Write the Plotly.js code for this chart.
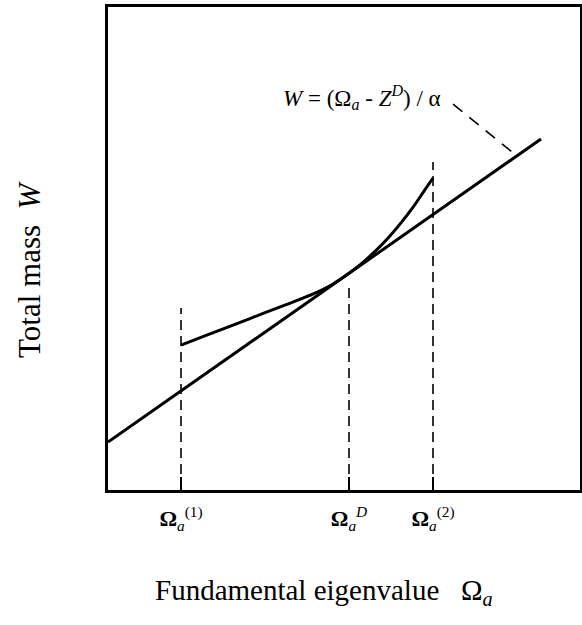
<!DOCTYPE html>
<html>
<head>
<meta charset="utf-8">
<script src="https://cdn.plot.ly/plotly-3.0.1.min.js"></script>
<style>
  html, body { margin: 0; padding: 0; background: #fff; }
  #chart { width: 582px; height: 625px; }
</style>
</head>
<body>
<div id="chart"></div>
<script>
// Eigenvalue positions on the horizontal axis
const eigenPositions = [15.47, 51.06, 68.86];
const eigenLabels = [
  '<b>Ω</b><sub><i>a</i></sub><sup>(1)</sup>',
  '<b>Ω</b><sub><i>a</i></sub><sup><i>D</i></sup>',
  '<b>Ω</b><sub><i>a</i></sub><sup>(2)</sup>'
];
// Heights reached by the dashed guide lines
const guideTops = [37.7, 42.4, 67.9];

// Total mass curve W(Ω_a)
const massX = [15.47, 20.5, 26.9, 33.0, 38.9, 43.5, 47.4, 51.06, 53.4, 56.9, 59.1, 61.9, 64.6, 66.7, 68.86];
const massY = [30.0, 31.9, 34.3, 36.6, 38.8, 40.6, 42.5, 44.9, 46.6, 49.7, 51.9, 55.1, 58.5, 61.5, 64.6];

// Straight line W = (Ω_a - Z^D) / α
const lineX = [0, 91.74];
const lineY = [9.94, 72.67];

// Leader from the formula to the straight line
const leaderX = [73.1, 86.65];
const leaderY = [79.9, 69.15];

const serif = 'Liberation Serif, Times New Roman, serif';

const traces = [];

eigenPositions.forEach((x, i) => {
  traces.push({
    x: [x, x], y: [0, guideTops[i]],
    mode: 'lines', hoverinfo: 'skip', showlegend: false,
    line: { color: '#000', width: 1.6, dash: '10px,6px' }
  });
});

traces.push({
  x: lineX, y: lineY, mode: 'lines', showlegend: false,
  line: { color: '#000', width: 3 }
});

traces.push({
  x: massX, y: massY, mode: 'lines', showlegend: false,
  line: { color: '#000', width: 3, shape: 'spline', smoothing: 0.6 }
});

traces.push({
  x: leaderX, y: leaderY, mode: 'lines', showlegend: false,
  line: { color: '#000', width: 1.6, dash: '12px,9px' }
});

const layout = {
  width: 582, height: 625,
  margin: { l: 108, r: 2, t: 7, b: 135 },
  paper_bgcolor: '#fff', plot_bgcolor: '#fff',
  showlegend: false,
  font: { family: serif, color: '#000' },
  xaxis: {
    range: [0, 100], fixedrange: true,
    showgrid: false, zeroline: false,
    showline: true, mirror: true, linecolor: '#000', linewidth: 3,
    tickmode: 'array', tickvals: eigenPositions, ticktext: eigenLabels,
    ticks: 'inside', ticklen: 13, tickwidth: 1.5, tickcolor: '#000',
    ticklabelstandoff: 7,
    tickfont: { family: serif, size: 22, color: '#000' }
  },
  yaxis: {
    range: [0, 100], fixedrange: true,
    showgrid: false, zeroline: false,
    showline: true, mirror: true, linecolor: '#000', linewidth: 3,
    showticklabels: false, ticks: ''
  },
  annotations: [
    {
      text: '<i>W</i> = (Ω<sub><i>a</i></sub> - <i>Z</i><sup><i>D</i></sup>) / α',
      xref: 'x', yref: 'y', x: 53.8, y: 81.2,
      xanchor: 'center', yanchor: 'middle', showarrow: false,
      font: { family: serif, size: 23, color: '#000' }
    },
    {
      text: 'Fundamental eigenvalue   Ω<sub><i>a</i></sub>',
      xref: 'paper', yref: 'paper', x: 0.458, y: -0.211,
      xanchor: 'center', yanchor: 'middle', showarrow: false,
      font: { family: serif, size: 29, color: '#000' }
    },
    {
      text: 'Total mass  <i>W</i>',
      xref: 'paper', yref: 'paper', x: -0.165, y: 0.458,
      xanchor: 'center', yanchor: 'middle', showarrow: false, textangle: -90,
      font: { family: serif, size: 31, color: '#000' }
    }
  ]
};

Plotly.newPlot('chart', traces, layout, { displayModeBar: false, staticPlot: true });
</script>
</body>
</html>
